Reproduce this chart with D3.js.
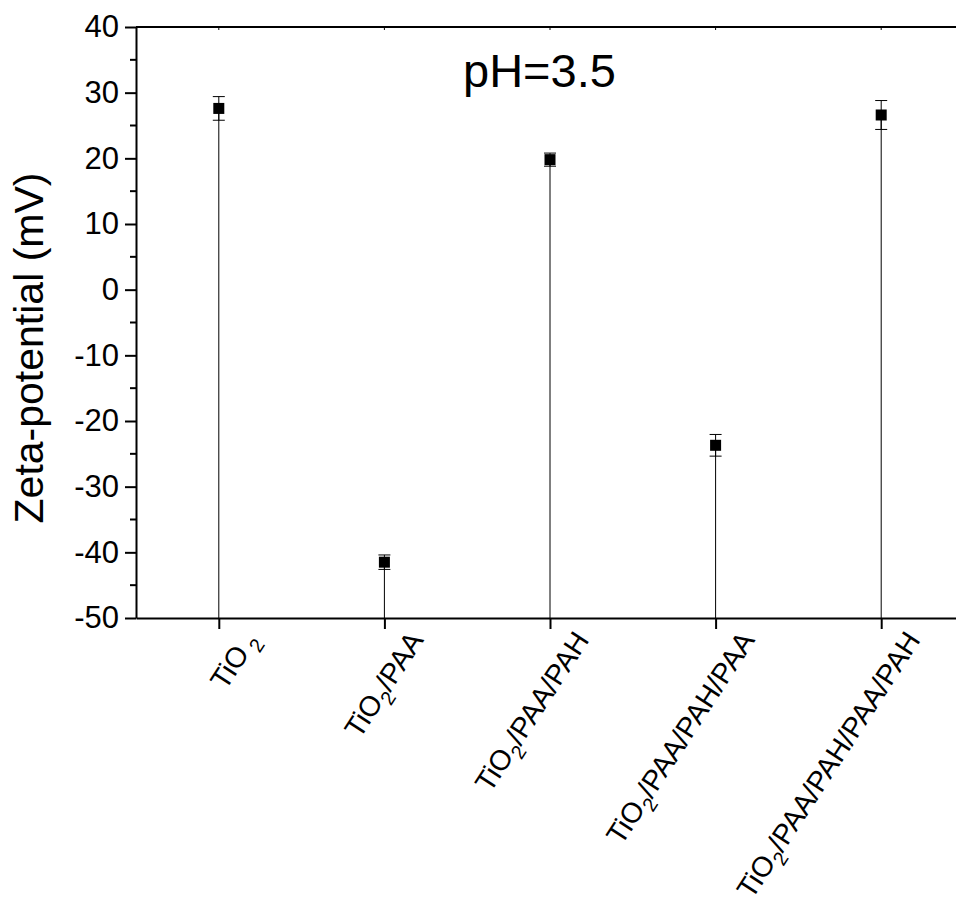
<!DOCTYPE html>
<html>
<head>
<meta charset="utf-8">
<script src="https://cdnjs.cloudflare.com/ajax/libs/d3/7.8.5/d3.min.js"></script>
<style>
  body { margin: 0; background: #fff; }
  text { font-family: "Liberation Sans", Arial, sans-serif; fill: #000; }
</style>
</head>
<body>
<svg width="956" height="905"></svg>
<script>
let categories = ["TiO2", "TiO2/PAA", "TiO2/PAA/PAH", "TiO2/PAA/PAH/PAA", "TiO2/PAA/PAH/PAA/PAH"];
let zeta = [27.6, -41.5, 19.8, -23.7, 26.6];
let zetaErr = [1.8, 1.1, 1.0, 1.65, 2.2];
let yTicks = [-50, -40, -30, -20, -10, 0, 10, 20, 30, 40];

let svg = d3.select("svg"),
    margin = {top: 27, left: 136, bottom: 618},
    spacing = 165.6;

let x = d3.scaleLinear()
    .domain([0.5, 5.5])
    .range([margin.left, margin.left + 5 * spacing]);

let y = d3.scaleLinear()
    .domain([-50, 40])
    .range([margin.bottom, margin.top]);

let data = categories.map((c, i) => ({name: c, pos: i + 1, v: zeta[i], e: zetaErr[i]}));

// frame: top line
svg.append("line")
    .attr("x1", margin.left).attr("x2", x(5.5))
    .attr("y1", margin.top).attr("y2", margin.top)
    .attr("stroke", "#000").attr("stroke-width", 2);

// left axis with minor ticks
let yAxis = d3.axisLeft(y)
    .tickValues(yTicks)
    .tickSize(11)
    .tickPadding(6)
    .tickSizeOuter(0)
    .tickFormat(d => String(d)); // plain hyphen, not unicode minus

let gy = svg.append("g")
    .attr("transform", "translate(" + margin.left + ",0)")
    .call(yAxis);
gy.select(".domain").attr("stroke-width", 2);
gy.selectAll(".tick line").attr("stroke-width", 2);
gy.selectAll(".tick text")
    .style("font-size", "31px")
    .style("font-family", "'Liberation Sans', Arial, sans-serif");

gy.selectAll(".minor")
    .data(d3.range(-45, 40, 10))
    .enter().append("line")
    .attr("x1", 0).attr("x2", -6)
    .attr("y1", d => y(d)).attr("y2", d => y(d))
    .attr("stroke", "#000").attr("stroke-width", 2);

// bottom axis
let xAxis = d3.axisBottom(x)
    .tickValues(data.map(d => d.pos))
    .tickSize(11)
    .tickSizeOuter(0)
    .tickFormat("");

let gx = svg.append("g")
    .attr("transform", "translate(0," + margin.bottom + ")")
    .call(xAxis);
gx.select(".domain").attr("stroke-width", 2);
gx.selectAll(".tick line").attr("stroke-width", 2);

// top axis small ticks
svg.selectAll(".top-tick")
    .data(data)
    .enter().append("line")
    .attr("x1", d => x(d.pos)).attr("x2", d => x(d.pos))
    .attr("y1", margin.top).attr("y2", margin.top + 3)
    .attr("stroke", "#000").attr("stroke-width", 1);

// rotated category labels with subscript
let labels = svg.selectAll(".cat")
    .data(data)
    .enter().append("text")
    .attr("class", "cat")
    .attr("text-anchor", "end")
    .style("font-size", "28.5px")
    .attr("transform", d => "translate(" + (x(d.pos) + 40) + "," + 640 + ") rotate(-57)");

labels.each(function (d) {
    let t = d3.select(this);
    let rest = d.name.slice(4);
    t.append("tspan").text("TiO");
    t.append("tspan").attr("dy", 8).style("font-size", "20px")
        .attr("dx", rest ? 0 : 5).text("2");
    if (rest) t.append("tspan").attr("dy", -8).text(rest);
});

// drop lines
svg.selectAll(".drop")
    .data(data)
    .enter().append("line")
    .attr("x1", d => x(d.pos)).attr("x2", d => x(d.pos))
    .attr("y1", d => y(d.v)).attr("y2", y(-50))
    .attr("stroke", "#000").attr("stroke-width", 1);

// error bars
let eb = svg.selectAll(".err")
    .data(data)
    .enter().append("g")
    .attr("class", "err");
eb.append("line")
    .attr("x1", d => x(d.pos)).attr("x2", d => x(d.pos))
    .attr("y1", d => y(d.v + d.e)).attr("y2", d => y(d.v - d.e))
    .attr("stroke", "#000");
eb.append("line")
    .attr("x1", d => x(d.pos) - 6).attr("x2", d => x(d.pos) + 6)
    .attr("y1", d => y(d.v + d.e)).attr("y2", d => y(d.v + d.e))
    .attr("stroke", "#000");
eb.append("line")
    .attr("x1", d => x(d.pos) - 6).attr("x2", d => x(d.pos) + 6)
    .attr("y1", d => y(d.v - d.e)).attr("y2", d => y(d.v - d.e))
    .attr("stroke", "#000");

// square markers
svg.selectAll(".pt")
    .data(data)
    .enter().append("rect")
    .attr("x", d => x(d.pos) - 5.5)
    .attr("y", d => y(d.v) - 5.5)
    .attr("width", 11).attr("height", 11)
    .attr("fill", "#000");

// axis title
svg.append("text")
    .attr("transform", "translate(43,348) rotate(-90)")
    .attr("text-anchor", "middle")
    .style("font-size", "41px")
    .text("Zeta-potential (mV)");

// annotation
svg.append("text")
    .attr("x", 463).attr("y", 87)
    .style("font-size", "47px")
    .text("pH=3.5");
</script>
</body>
</html>
